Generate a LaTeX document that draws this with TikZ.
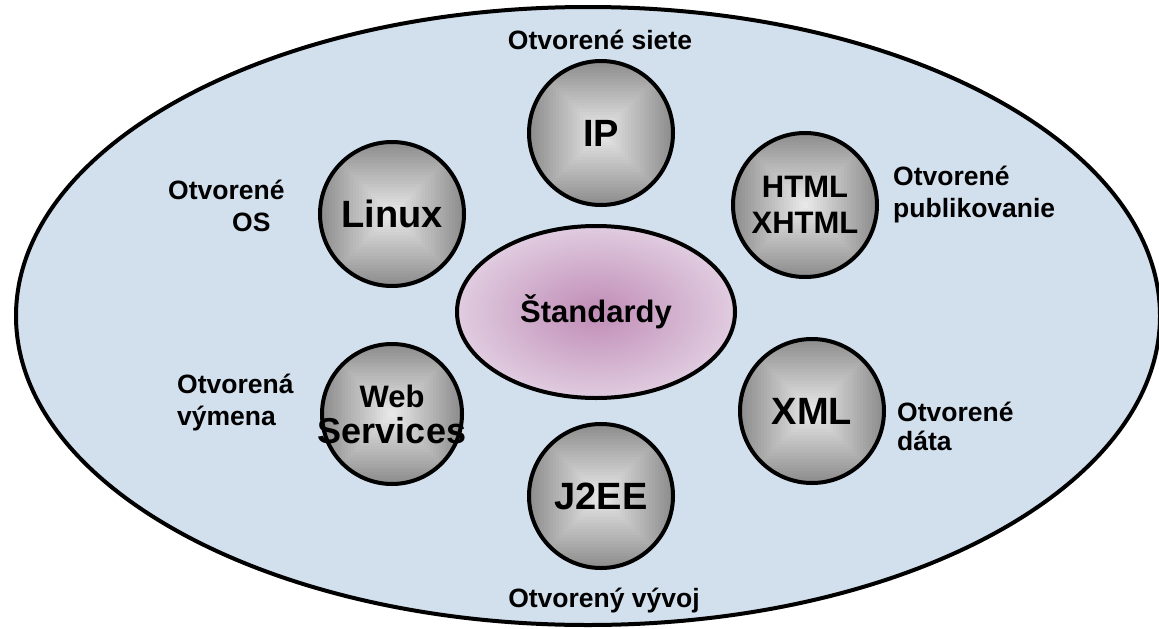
\documentclass[tikz,border=0pt]{standalone}
\usepackage{fontspec}
\setmainfont{Liberation Sans}
\usetikzlibrary{shapes.geometric}
\definecolor{bgblue}{RGB}{210,223,236}
\definecolor{stdin}{RGB}{192,140,182}
\definecolor{stdout}{RGB}{224,204,224}
\newcommand\sqshade[3]{%
  \begin{scope}
    \clip (#1,#2) circle [radius=#3pt];
    \foreach \i in {0,...,23}{%
      \pgfmathsetmacro\s{#3*(1-\i/24)}%
      \pgfmathtruncatemacro\g{142+(232-142)*\i/23}%
      \definecolor{tmpg}{RGB}{\g,\g,\g}%
      \fill[tmpg] ({#1-\s},{#2-\s}) rectangle ({#1+\s},{#2+\s});
    }
  \end{scope}}
\begin{document}
\begin{tikzpicture}[x=1pt,y=-1pt,
  bubble/.style={circle, draw, line width=4pt, minimum size=144pt, inner sep=0pt,
    align=center, font=\fontsize{38}{40}\selectfont\bfseries},
  lbl/.style={inner sep=0pt, font=\fontsize{26.5}{32}\selectfont\bfseries}]
\useasboundingbox (0,0) rectangle (1159,629);
\node[draw, ellipse, line width=4pt, fill=bgblue, minimum width=1144pt,
  minimum height=618pt, inner sep=0pt] (outer) at (588,316) {};

\sqshade{601}{133}{72}
\node[bubble] (ip) at (601,133) {IP};
\sqshade{392}{214}{72}
\node[bubble] (linux) at (392,214) {Linux};
\sqshade{805}{205}{72}
\node[bubble, font=\fontsize{31}{36}\selectfont\bfseries] (html) at (805,205) {HTML\\XHTML};
\sqshade{392}{414}{70}
\node[bubble, minimum size=140pt, font=\fontsize{36}{36}\selectfont\bfseries] (ws) at (392,414)
  {\makebox[0pt]{\fontsize{31}{36}\selectfont Web}\\\makebox[0pt]{Services}};
\sqshade{812}{411}{72}
\node[bubble] (xml) at (812,411) {XML};
\sqshade{601}{496}{72}
\node[bubble] (j2ee) at (601,496) {J2EE};

\node[ellipse, draw, line width=4pt, minimum width=278pt, minimum height=172pt,
  inner sep=0pt, inner color=stdin, outer color=stdout,
  font=\fontsize{31}{34}\selectfont\bfseries] (std) at (596,312) {Štandardy};

\node[lbl, anchor=base] (l1) at (600,49) {Otvorené siete};
\node[lbl, anchor=base] (l2) at (604,607) {Otvorený vývoj};
\node[lbl, anchor=base west] (l3) at (168,199)
  {\begin{tabular}[t]{@{}l@{}}Otvorené\\\hspace*{64pt}OS\end{tabular}};
\node[lbl, anchor=base west] (l4) at (893,185)
  {\begin{tabular}[t]{@{}l@{}}Otvorené\\publikovanie\end{tabular}};
\node[lbl, anchor=base west] (l5) at (177,393)
  {\begin{tabular}[t]{@{}l@{}}Otvorená\\výmena\end{tabular}};
\node[lbl, anchor=base west, font=\fontsize{26.5}{29}\selectfont\bfseries] (l6) at (897,421)
  {\begin{tabular}[t]{@{}l@{}}Otvorené\\dáta\end{tabular}};
\end{tikzpicture}
\end{document}
